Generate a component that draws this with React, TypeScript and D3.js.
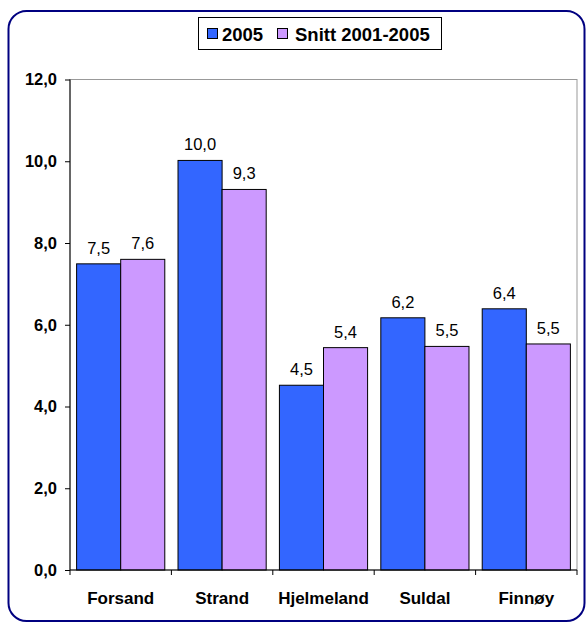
import { useEffect, useRef } from "react";
import * as d3 from "d3";

const categories = ["Forsand", "Strand", "Hjelmeland", "Suldal", "Finnøy"];
const series2005 = [7.49, 10.02, 4.52, 6.17, 6.39];
const seriesSnitt = [7.6, 9.31, 5.44, 5.47, 5.53];
const seriesNames = ["2005", "Snitt 2001-2005"];
const yTicks = [0, 2, 4, 6, 8, 10, 12];

const colors = ["#3366FF", "#CC99FF"];
const font = "'Liberation Sans', Arial, sans-serif";

export default function App() {
    const svgRef = useRef<SVGSVGElement>(null);

    useEffect(() => {
        const svg = d3.select(svgRef.current);
        svg.selectAll("*").remove();

        // outer rounded frame
        svg.append("rect")
            .attr("x", 8.5).attr("y", 11).attr("width", 576).attr("height", 610)
            .attr("rx", 18).attr("ry", 18)
            .attr("fill", "#fff")
            .attr("stroke", "#000080")
            .attr("stroke-width", 2);

        const left = 70, right = 577, top = 79.5, bottom = 570;

        const x0 = d3.scaleBand().domain(categories).range([left, right]).paddingInner(0).paddingOuter(0);
        const y = d3.scaleLinear().domain([0, 12]).range([bottom, top]);
        const x1 = d3.scaleBand().domain(seriesNames).range([0, x0.bandwidth()]).paddingInner(0).paddingOuter(0.15);

        const g = svg.append("g");

        // plot area border
        g.append("rect")
            .attr("x", left).attr("y", top)
            .attr("width", right - left).attr("height", bottom - top)
            .attr("fill", "none")
            .attr("stroke", "#999")
            .attr("stroke-width", 1);

        const data = categories.map((c, i) => ({ c, vals: [series2005[i], seriesSnitt[i]] }));

        data.forEach((d) => {
            d.vals.forEach((v, j) => {
                const bx = (x0(d.c) || 0) + (x1(seriesNames[j]) || 0);
                g.append("rect")
                    .attr("x", bx)
                    .attr("y", y(v))
                    .attr("width", x1.bandwidth())
                    .attr("height", y(0) - y(v))
                    .attr("fill", colors[j])
                    .attr("stroke", "#000")
                    .attr("stroke-width", 1);
                g.append("text")
                    .attr("x", bx + x1.bandwidth() / 2)
                    .attr("y", y(v) - 10)
                    .attr("text-anchor", "middle")
                    .style("font-family", font)
                    .style("font-size", "16.5px")
                    .attr("fill", "#000")
                    .text(d3.format(".1f")(v).replace(".", ","));
            });
        });

        // y axis
        const yAxis = g.append("g")
            .attr("transform", `translate(${left},0)`)
            .call(d3.axisLeft(y).tickValues(yTicks).tickSize(5).tickPadding(8)
                .tickFormat((d) => d3.format(".1f")(+d).replace(".", ",")));
        yAxis.selectAll("path, line").attr("stroke", "#000");
        yAxis.select(".domain").attr("d", `M0,${top}V${bottom}`);
        yAxis.selectAll("text")
            .style("font-family", font)
            .style("font-size", "16.5px")
            .style("font-weight", "bold")
            .attr("fill", "#000");

        // x axis
        const xAxis = g.append("g")
            .attr("transform", `translate(0,${bottom})`);
        xAxis.append("line")
            .attr("x1", left).attr("x2", right)
            .attr("stroke", "#000");
        const bounds = categories.map((c) => x0(c) || 0).concat([right]);
        xAxis.selectAll("line.tk").data(bounds).enter().append("line")
            .attr("class", "tk")
            .attr("x1", (d) => d).attr("x2", (d) => d)
            .attr("y1", 0).attr("y2", 5)
            .attr("stroke", "#000");
        xAxis.selectAll("text").data(categories).enter().append("text")
            .attr("x", (d) => (x0(d) || 0) + x0.bandwidth() / 2)
            .attr("y", 34)
            .attr("text-anchor", "middle")
            .style("font-family", font)
            .style("font-size", "17px")
            .style("font-weight", "bold")
            .attr("fill", "#000")
            .text((d) => d);

        // legend
        const lg = svg.append("g");
        lg.append("rect")
            .attr("x", 198.5).attr("y", 17.5).attr("width", 243).attr("height", 32)
            .attr("fill", "#fff").attr("stroke", "#000").attr("stroke-width", 1);
        const items = [
            { name: seriesNames[0], sx: 207, tx: 222 },
            { name: seriesNames[1], sx: 277, tx: 295 },
        ];
        items.forEach((it, i) => {
            lg.append("rect")
                .attr("x", it.sx + 0.5).attr("y", 28.5).attr("width", 10).attr("height", 10)
                .attr("fill", colors[i]).attr("stroke", "#000").attr("stroke-width", 1);
            lg.append("text")
                .attr("x", it.tx).attr("y", 40.5)
                .style("font-family", font)
                .style("font-size", "18.5px")
                .style("font-weight", "bold")
                .attr("fill", "#000")
                .text(it.name);
        });
    }, []);

    return (
        <div style={{ position: "absolute", left: 0, top: 0 }}>
            <svg ref={svgRef} width={587} height={624} style={{ display: "block" }} />
        </div>
    );
}
